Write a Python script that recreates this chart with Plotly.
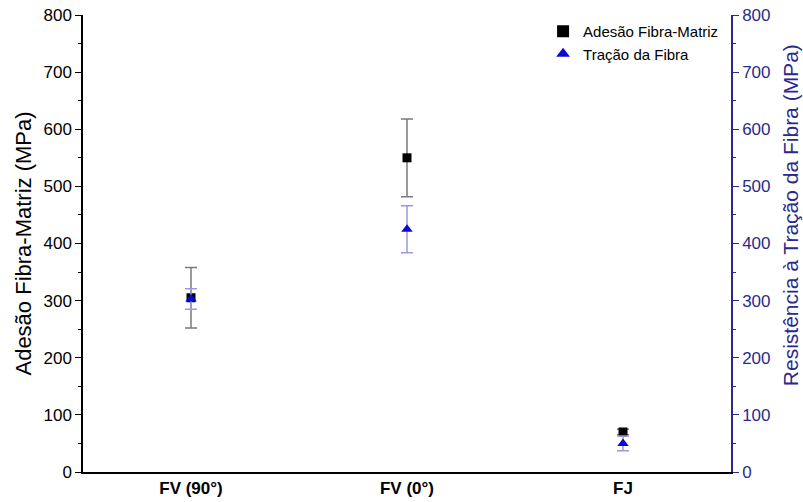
import plotly.graph_objects as go

categories = ["FV (90°)", "FV (0°)", "FJ"]
adesao = [305, 550, 70]
adesao_err = [53, 68, 5]
tracao = [303, 425, 50]
tracao_err = [18, 41, 13]
y_ticks = [0, 100, 200, 300, 400, 500, 600, 700, 800]

NAVY = "#2a2a8c"
FONT = "Liberation Sans, Arial, sans-serif"
x_pos = list(range(len(categories)))
bounds = [i - 0.5 for i in range(len(categories) + 1)]

fig = go.Figure()
fig.add_trace(go.Scatter(
    x=x_pos, y=adesao, mode="markers", name="Adesão Fibra-Matriz",
    marker=dict(symbol="square", size=9, color="black"),
    error_y=dict(type="data", array=adesao_err, color="#7a7a7a", thickness=1.5, width=6),
))
fig.add_trace(go.Scatter(
    x=x_pos, y=tracao, mode="markers", name="Tração da Fibra", yaxis="y2",
    marker=dict(symbol="triangle-up", size=10, color="#0a0ad0"),
    error_y=dict(type="data", array=tracao_err, color="#9a9ad8", thickness=1.5, width=6),
))

fig.update_layout(
    width=803, height=502,
    margin=dict(l=83, r=72, t=15, b=30, autoexpand=False),
    paper_bgcolor="white", plot_bgcolor="white",
    font=dict(family=FONT, size=16, color="black"),
    showlegend=True,
    legend=dict(x=0.71, y=1.0, xanchor="left", yanchor="top",
                bgcolor="rgba(0,0,0,0)", font=dict(size=15), tracegroupgap=0,
                itemsizing="constant"),
    xaxis=dict(
        range=[-0.5, 2.5], tickmode="array", tickvals=x_pos, ticktext=categories,
        ticks="", showgrid=False, zeroline=False, showline=True, automargin=False,
        linecolor="black", linewidth=1.5,
        tickfont=dict(family=FONT, size=17, color="black", weight="bold"),
    ),
    xaxis2=dict(
        overlaying="x", side="bottom", range=[-0.5, 2.5], tickmode="array",
        tickvals=bounds, ticks="outside", ticklen=6, tickcolor="black", automargin=False,
        showticklabels=False, showgrid=False, zeroline=False, showline=False,
    ),
    xaxis3=dict(
        overlaying="x", side="top", range=[-0.5, 2.5], tickmode="array",
        tickvals=bounds, ticks="inside", ticklen=6, tickcolor="black", automargin=False,
        showticklabels=False, showgrid=False, zeroline=False,
        showline=True, linecolor="black", linewidth=1.5,
    ),
    yaxis=dict(
        range=[0, 800], tickmode="array", tickvals=y_ticks, automargin=False,
        ticks="outside", ticklen=6, tickcolor="black", tickwidth=1,
        minor=dict(dtick=50, ticks="outside", ticklen=3, tickcolor="black"),
        showgrid=False, zeroline=False, showline=True,
        linecolor="black", linewidth=1.5,
        title=dict(text="Adesão Fibra-Matriz (MPa)", font=dict(size=22), standoff=6),
        tickfont=dict(size=17, color="black"),
    ),
    yaxis2=dict(
        overlaying="y", side="right", range=[0, 800], tickmode="array",
        tickvals=y_ticks, ticks="outside", ticklen=6, tickcolor=NAVY, automargin=False,
        minor=dict(dtick=50, ticks="outside", ticklen=3, tickcolor=NAVY),
        showgrid=False, zeroline=False, showline=True,
        linecolor=NAVY, linewidth=1.5,
        tickfont=dict(size=17, color=NAVY),
    ),
    annotations=[dict(
        text="Resistência à Tração da Fibra (MPa)", textangle=-90,
        xref="paper", yref="paper", x=1, y=0.562, xshift=59,
        xanchor="center", yanchor="middle", showarrow=False,
        font=dict(size=21, color=NAVY),
    )],
)

fig.write_html("out.html")
